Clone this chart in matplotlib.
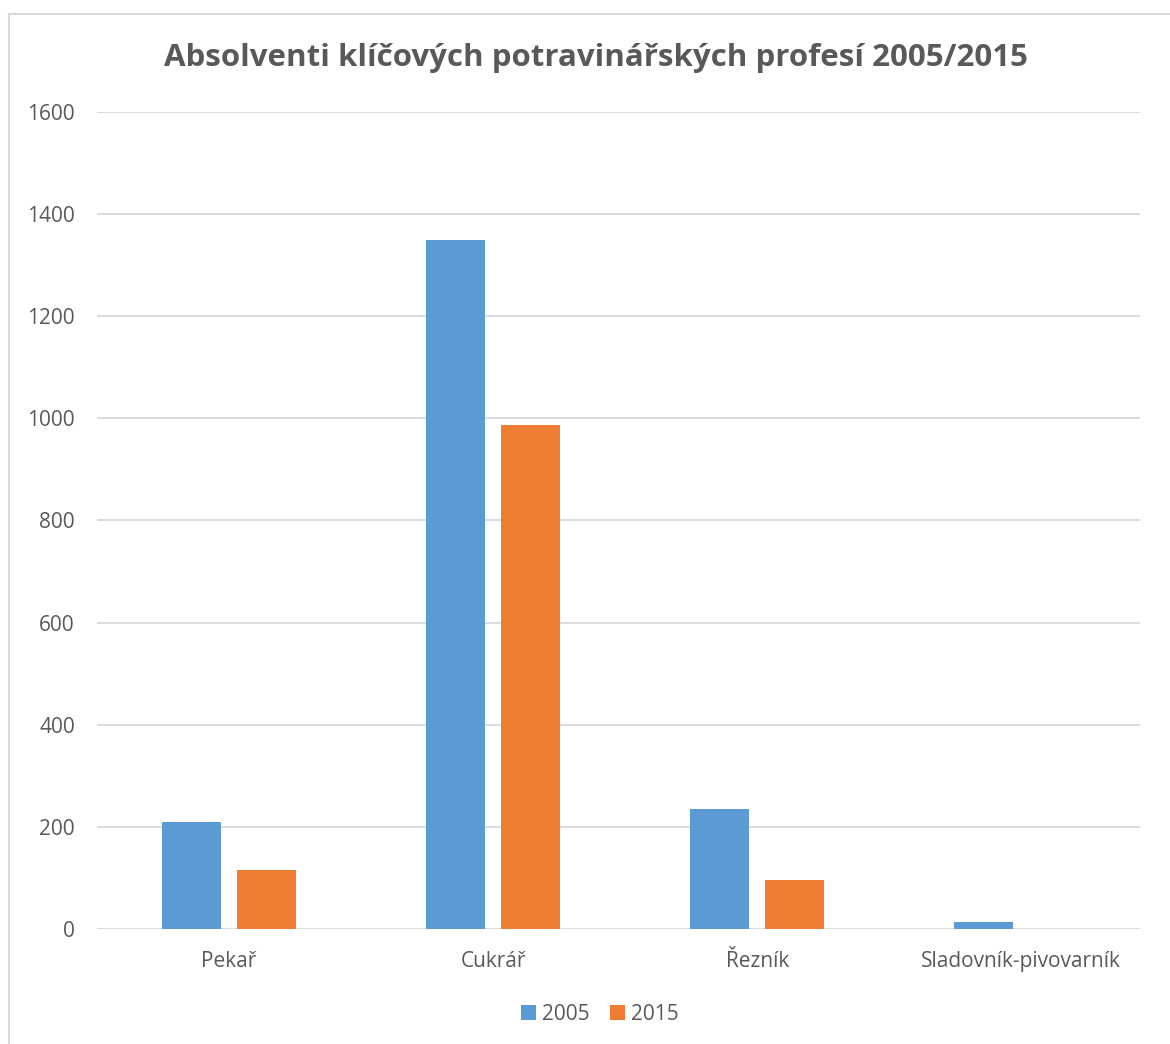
import matplotlib
matplotlib.use("Agg")
import matplotlib.pyplot as plt
import numpy as np
from matplotlib.patches import Rectangle

categories = ["Pekař", "Cukrář", "Řezník", "Sladovník-pivovarník"]
series_names = ["2005", "2015"]
values_2005 = [210, 1350, 235, 14]
values_2015 = [116, 987, 95, 0]
yticks = [0, 200, 400, 600, 800, 1000, 1200, 1400, 1600]
title = "Absolventi klíčových potravinářských profesí 2005/2015"

colors = ["#5B9BD5", "#ED7D31"]
text_color = "#595959"
grid_color = "#D9D9D9"

plt.rcParams['font.family'] = ['Open Sans', 'DejaVu Sans']

W, H = 1170, 1044
fig = plt.figure(figsize=(W / 100, H / 100), dpi=100)
fig.patch.set_facecolor("white")

# chart border
fig.patches.append(Rectangle((9 / W, -0.01), 1.05, 1 - 14 / H + 0.01,
                             transform=fig.transFigure, fill=False,
                             edgecolor="#D9D9D9", linewidth=1.5))

ax = fig.add_axes([97 / W, 1 - 929 / H, (1140 - 97) / W, (929 - 112) / H])
x = np.arange(len(categories))
bw = 0.2235
off = 0.142
ax.bar(x - off, values_2005, bw, color=colors[0], label=series_names[0], zorder=3)
ax.bar(x + off, values_2015, bw, color=colors[1], label=series_names[1], zorder=3)

ax.set_xlim(-0.5, 3.45)
ax.set_ylim(0, 1600)
ax.set_yticks(yticks)
ax.set_yticklabels([str(v) for v in yticks])
ax.set_xticks(x)
ax.set_xticklabels(categories)
ax.grid(axis="y", color=grid_color, linewidth=1.3, zorder=0)
for s in ax.spines.values():
    s.set_visible(False)
ax.tick_params(axis="both", length=0, colors=text_color, labelsize=15)
ax.tick_params(axis="y", pad=16)
ax.tick_params(axis="x", pad=16)
for lab in ax.get_xticklabels() + ax.get_yticklabels():
    lab.set_color(text_color)

fig.text(596 / W, 1 - 58 / H, title, ha="center", va="center",
         fontsize=22.5, fontweight="bold", color=text_color)

leg = fig.legend(loc="center", bbox_to_anchor=(600 / W, 1 - 1014 / H), ncol=2,
                 frameon=False, fontsize=15, handlelength=0.7, handleheight=0.7,
                 handletextpad=0.3, columnspacing=1.0)
for t in leg.get_texts():
    t.set_color(text_color)

fig.savefig("out.png", dpi=100, facecolor="white")
